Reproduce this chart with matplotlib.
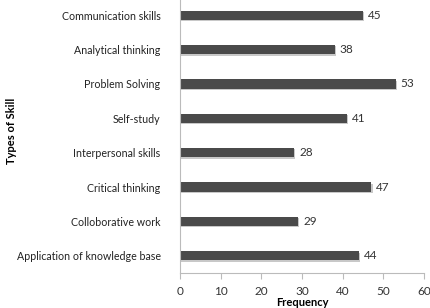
import matplotlib.pyplot as plt
import matplotlib.patheffects as pe

skills = ['Communication skills', 'Analytical thinking', 'Problem Solving', 'Self-study',
          'Interpersonal skills', 'Critical thinking', 'Colloborative work',
          'Application of knowledge base']
freq = [45, 38, 53, 41, 28, 47, 29, 44]
xticks = [0, 10, 20, 30, 40, 50, 60]

plt.rcParams['font.family'] = ['Lato', 'DejaVu Sans']

fig = plt.figure(figsize=(4.30, 3.08), dpi=100)
ax = fig.add_axes([0.4186, 0.1136, 0.5674, 0.8930])

pos = list(range(len(skills)))[::-1]
bars = ax.barh(pos, freq, height=0.27, color='#4a4a4a', edgecolor='none')
for b in bars:
    b.set_path_effects([pe.SimplePatchShadow(offset=(1, -1), shadow_rgbFace='#bbbbbb', alpha=0.8), pe.Normal()])

for p, v in zip(pos, freq):
    ax.text(v + 1.3, p, str(v), va='center', ha='left', fontsize=8.5, color='#333333')

ax.set_xlim(0, 60)
ax.set_ylim(-0.5, len(skills) - 0.5)
ax.set_xticks(xticks)
ax.set_yticks(pos)
ax.set_yticklabels(skills, fontsize=7.7, color='#222222')
ax.tick_params(axis='x', labelsize=8.5, colors='#333333', length=4, color='#bbbbbb', pad=5)
ax.tick_params(axis='y', length=0, pad=14)
for s in ['top', 'right']:
    ax.spines[s].set_visible(False)
for s in ['left', 'bottom']:
    ax.spines[s].set_color('#bbbbbb')
    ax.spines[s].set_linewidth(0.8)

ax.set_xlabel('Frequency', fontsize=8, fontweight='bold', labelpad=0.5)
fig.text(0.026, 0.575, 'Types of Skill', rotation=90, fontsize=8, fontweight='bold',
         ha='center', va='center')

fig.savefig('out.png', dpi=100)
